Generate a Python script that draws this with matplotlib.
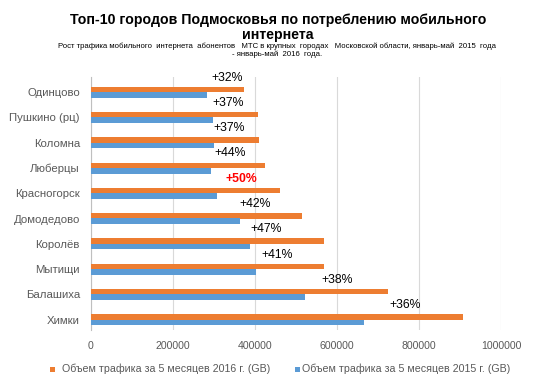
import matplotlib
matplotlib.use("Agg")
import matplotlib.pyplot as plt
from matplotlib.patches import Rectangle

plt.rcParams['font.family'] = ['Liberation Sans', 'DejaVu Sans']

cities = ["Одинцово", "Пушкино (рц)", "Коломна", "Люберцы", "Красногорск",
          "Домодедово", "Королёв", "Мытищи", "Балашиха", "Химки"]
traffic_2016 = [372000, 407000, 410000, 424000, 461000, 515000, 568000, 568000, 724000, 907000]
traffic_2015 = [282000, 298000, 300000, 293000, 307000, 363000, 388000, 402000, 522000, 666000]
growth = ["+32%", "+37%", "+37%", "+44%", "+50%", "+42%", "+47%", "+41%", "+38%", "+36%"]
label_x = [332000, 334000, 337000, 339000, 366000, 400000, 427000, 454000, 600000, 766000]
highlight = "+50%"

x_ticks = [0, 200000, 400000, 600000, 800000, 1000000]
legend_2016 = "Объем трафика за 5 месяцев 2016 г. (GB)"
legend_2015 = "Объем трафика за 5 месяцев 2015 г. (GB)"
title = "Топ-10 городов Подмосковья по потреблению мобильного\nинтернета"
subtitle = ("Рост трафика мобильного  интернета  абонентов   МТС в крупных  городах   "
            "Московской области, январь-май  2015  года\n- январь-май  2016  года.")

ORANGE = "#ED7D31"
BLUE = "#5B9BD5"

W, H = 556, 390
fig = plt.figure(figsize=(W / 100, H / 100), dpi=100)
ax = fig.add_axes([91 / W, 1 - 330 / H, 410 / W, 253 / H])

pos = list(range(len(cities)))
ax.barh([p - 0.105 for p in pos], traffic_2016, height=0.21, color=ORANGE, zorder=3)
ax.barh([p + 0.112 for p in pos], traffic_2015, height=0.225, color=BLUE, zorder=3)

for p, g, lx in zip(pos, growth, label_x):
    red = (g == highlight)
    ax.text(lx, p - 0.57, g, ha="center", va="center", fontsize=8.8,
            color="#FF0000" if red else "black",
            fontweight="bold" if red else "normal", zorder=4)

ax.set_xlim(0, 1000000)
ax.set_ylim(9.407, -0.593)
ax.set_xticks(x_ticks)
ax.set_xticklabels([str(t) for t in x_ticks])
ax.set_yticks(pos)
ax.set_yticklabels(cities)
ax.tick_params(axis="x", length=0, pad=8, labelsize=7.6, labelcolor="#595959")
ax.tick_params(axis="y", length=0, pad=8, labelsize=8.2, labelcolor="#595959")
ax.grid(axis="x", color="#D9D9D9", linewidth=0.8, zorder=0)
ax.set_axisbelow(True)
for s in ["top", "right", "bottom"]:
    ax.spines[s].set_visible(False)
ax.spines["left"].set_color("#BFBFBF")
ax.spines["left"].set_linewidth(0.8)
ax.spines["left"].set_zorder(2)

fig.text(0.5, 1 - 27.5 / H, title, ha="center", va="center", fontsize=10.2,
         fontweight="bold", linespacing=1.05)
fig.text(0.498, 1 - 50.5 / H, subtitle, ha="center", va="center", fontsize=5.6,
         linespacing=1.2)

# legend (manual placement to match the reference)
ly = 1 - 369 / H
sq_w, sq_h = 5 / W, 5 / H
for (mx, tx, col, lab) in [(50, 61.5, ORANGE, legend_2016), (295, 302.5, BLUE, legend_2015)]:
    fig.patches.append(Rectangle((mx / W, ly - sq_h / 2), sq_w, sq_h, facecolor=col,
                                 edgecolor="none", transform=fig.transFigure, figure=fig))
    fig.text(tx / W, ly, lab, ha="left", va="center", fontsize=7.7, color="#595959")

fig.savefig("out.png", dpi=100)
